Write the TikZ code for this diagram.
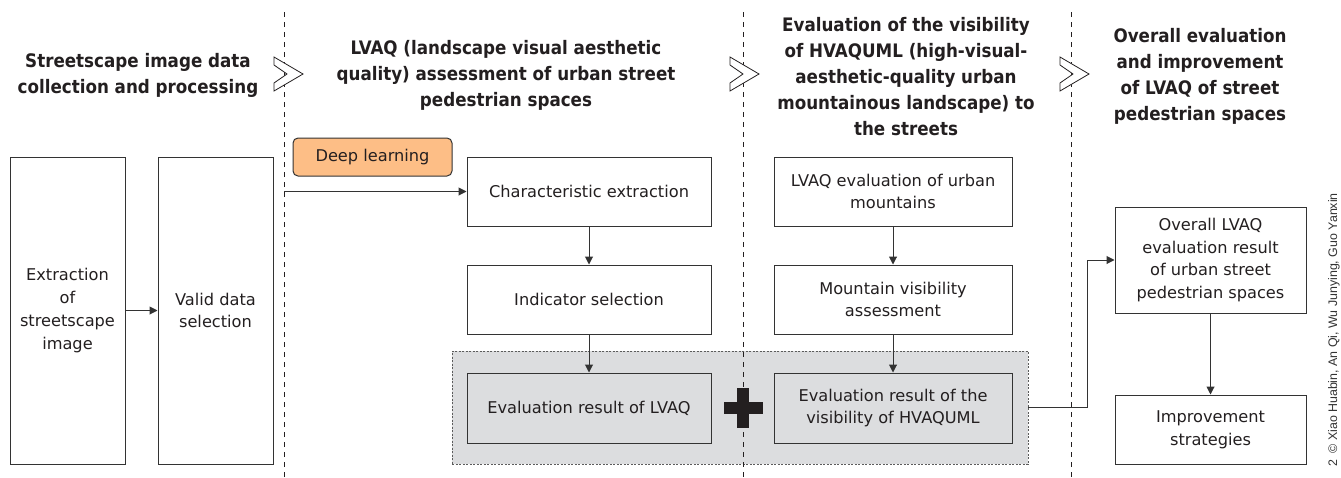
\documentclass[tikz,border=0pt]{standalone}
\usepackage{fontspec}
\setmainfont{DejaVu Sans}
\newfontfamily\hdfont{DejaVu Sans Condensed}
\newfontfamily\cpfont{Liberation Sans}
\usetikzlibrary{arrows.meta}
\definecolor{txt}{HTML}{231F20}
\definecolor{linec}{HTML}{333333}
\definecolor{orangef}{HTML}{FDBE86}
\definecolor{grayf}{HTML}{DCDDDF}
\tikzset{
  box/.style={draw=linec, line width=1pt, fill=white, align=center, inner sep=0pt,
    text=txt, font=\fontsize{16.2}{22.7}\selectfont},
  graybox/.style={box, fill=grayf},
  hdr/.style={align=center, text=txt, inner sep=0pt,
    font=\hdfont\bfseries\fontsize{18.6}{26}\selectfont},
  arr/.style={draw=linec, line width=1pt, -{Triangle[length=8pt,width=8pt]}},
  sep/.style={draw=txt, line width=0.9pt, dash pattern=on 5pt off 5pt},
  chev/.style={draw=txt, line width=0.8pt, fill=white, line join=miter},
}
\begin{document}
\begin{tikzpicture}[x=1pt,y=-1pt]
\useasboundingbox (0,0) rectangle (1341,477);
% gray region
\node[draw=linec!80, line width=0.8pt, dash pattern=on 2pt off 1.5pt, fill=grayf,
  minimum width=576pt, minimum height=113pt, inner sep=0pt] (region) at (740,407.5) {};
% separators
\coordinate (s1t) at (284,12); \coordinate (s1b) at (284,477);
\coordinate (s2t) at (743,12); \coordinate (s2b) at (743,477);
\coordinate (s3t) at (1071,12); \coordinate (s3b) at (1071,477);
\draw[sep] (s1t) -- (s1b);
\draw[sep] (s2t) -- (s2b);
\draw[sep] (s3t) -- (s3b);
% chevrons
\foreach \cx in {274,730,1060}{
  \draw[chev] (\cx,57) -- ++(29,17) -- ++(-29,17) -- ++(0,-8) -- ++(13,-9) -- ++(-13,-9) -- cycle;
}
% headers
\node[hdr] (h1) at (138,75) {Streetscape image data\\collection and processing};
\node[hdr] (h2) at (506,75) {LVAQ (landscape visual aesthetic\\quality) assessment of urban street\\pedestrian spaces};
\node[hdr] (h3) at (906,76.5) {Evaluation of the visibility\\of HVAQUML (high-visual-\\aesthetic-quality urban\\mountainous landscape) to\\the streets};
\node[hdr] (h4) at (1200,76) {Overall evaluation\\and improvement\\of LVAQ of street\\pedestrian spaces};
% column 1
\node[box, minimum width=115pt, minimum height=307pt] (ext) at (67.5,310.5) {Extraction\\of\\streetscape\\image};
\node[box, minimum width=115pt, minimum height=307pt] (valid) at (215.5,310.5) {Valid data\\selection};
% column 2
\node[box, fill=orangef, rounded corners=5pt, minimum width=159pt, minimum height=38pt] (deep) at (372.5,157) {Deep learning};
\node[box, minimum width=244pt, minimum height=69pt] (char) at (589,191.5) {Characteristic extraction};
\node[box, minimum width=244pt, minimum height=69pt] (ind) at (589,299.5) {Indicator selection};
\node[graybox, minimum width=244pt, minimum height=70pt] (evl) at (589,408) {Evaluation result of LVAQ};
% column 3
\node[box, minimum width=238pt, minimum height=69pt] (mnt) at (893,191.5) {LVAQ evaluation of urban\\mountains};
\node[box, minimum width=238pt, minimum height=69pt] (mvis) at (893,299.5) {Mountain visibility\\assessment};
\node[graybox, minimum width=238pt, minimum height=70pt] (evh) at (893,408) {Evaluation result of the\\visibility of HVAQUML};
% column 4
\node[box, minimum width=191pt, minimum height=106pt] (overall) at (1210.5,260) {Overall LVAQ\\evaluation result\\of urban street\\pedestrian spaces};
\node[box, minimum width=191pt, minimum height=69pt] (impr) at (1210.5,429.5) {Improvement\\strategies};
% plus sign
\node[fill=txt, minimum width=39pt, minimum height=12pt, inner sep=0pt] (plush) at (743,408) {};
\node[fill=txt, minimum width=12pt, minimum height=40pt, inner sep=0pt] (plusv) at (743,408) {};
% connectors
\draw[arr] (ext) -- (valid);
\coordinate (dlstart) at (284,191.5);
\draw[arr] (dlstart) -- (char.west);
\draw[arr] (char) -- (ind);
\draw[arr] (ind) -- (evl);
\draw[arr] (mnt) -- (mvis);
\draw[arr] (mvis) -- (evh);
\coordinate (bend) at (1087,407.5);
\draw[arr] (region.east) -- (bend) |- (overall.west);
\draw[arr] (overall) -- (impr);
% credit
\node[rotate=90, anchor=east, inner sep=0pt, text=linec, font=\cpfont\fontsize{12.4}{14}\selectfont] (credit) at (1334,193) {2\enspace © Xiao Huabin, An Qi, Wu Junying, Guo Yanxin};
\end{tikzpicture}
\end{document}
